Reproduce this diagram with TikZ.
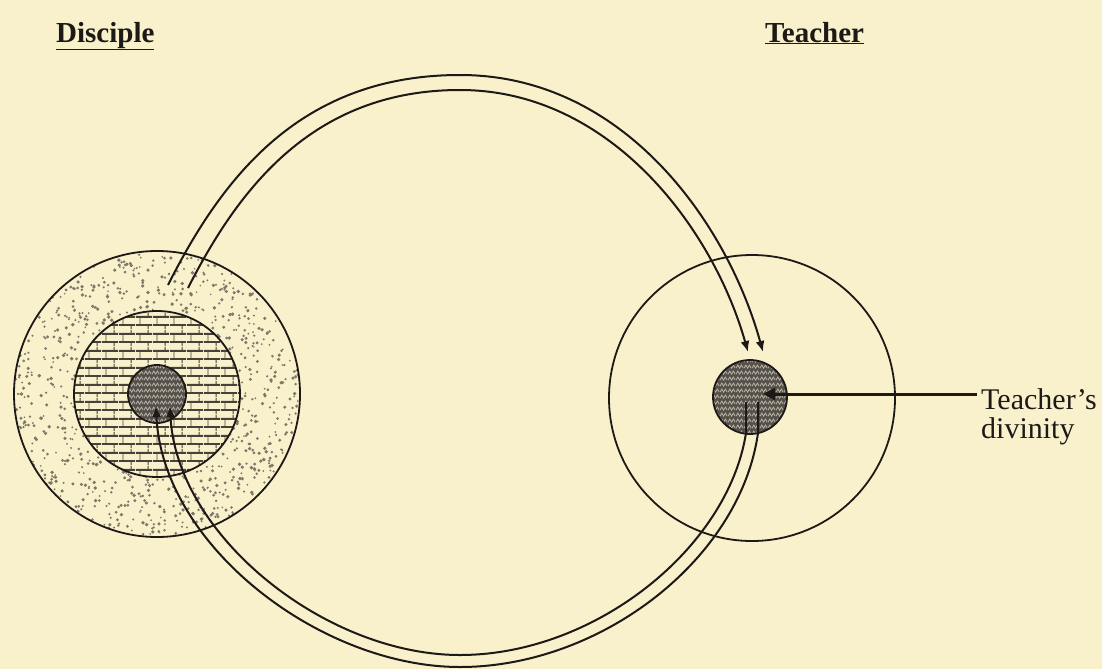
\documentclass[tikz,border=0pt]{standalone}
\usepackage{fontspec}
\setmainfont{Liberation Serif}
\usetikzlibrary{arrows.meta,patterns,patterns.meta}

\definecolor{paper}{RGB}{249,241,204}
\definecolor{ink}{RGB}{28,25,22}
\definecolor{dotgray}{RGB}{125,120,105}
\definecolor{brickline}{RGB}{70,66,58}
\definecolor{coregray}{RGB}{85,80,74}
\definecolor{corelight}{RGB}{185,180,165}

\tikzdeclarepattern{
  name=mybricks, type=uncolored,
  bottom left={(0pt,0pt)}, top right={(17pt,17pt)},
  tile size={(17pt,17pt)},
  code={
    \draw[line width=1.9pt] (0pt,4.25pt)--(17pt,4.25pt) (0pt,12.75pt)--(17pt,12.75pt);
    \draw[line width=0.9pt] (4.25pt,4.25pt)--(4.25pt,12.75pt)
       (12.75pt,12.75pt)--(12.75pt,17pt) (12.75pt,0pt)--(12.75pt,4.25pt);
  }}

\tikzdeclarepattern{
  name=myzig, type=uncolored,
  bottom left={(0pt,0pt)}, top right={(8pt,6pt)},
  tile size={(8pt,6pt)},
  code={
    \draw[line width=0.9pt] (0pt,1pt)--(2pt,4.5pt)--(4pt,1pt)--(6pt,4.5pt)--(8pt,1pt);
  }}

\tikzset{
  ring/.style={draw=ink, line width=1.8pt},
  flow/.style={draw=ink, line width=2pt},
  flowtip/.style={flow, -{Latex[length=11pt,width=9pt]}},
  headlabel/.style={font=\fontsize{29}{30}\selectfont\bfseries, anchor=base west, inner sep=0pt, text=ink},
  sidelabel/.style={font=\fontsize{30}{29}\selectfont, anchor=north west, inner sep=0pt, align=left, text=ink},
}

\begin{document}
\begin{tikzpicture}[x=1pt,y=-1pt]
\fill[paper] (0,0) rectangle (1102,669);
\useasboundingbox (0,0) rectangle (1102,669);

% ---- Disciple ----
\coordinate (dc) at (157,394);
\fill[paper] (dc) circle (143);
\begin{scope}
  \clip (dc) circle (143);
  \pgfmathsetseed{11}
  \foreach \i in {1,...,1500}{
    \pgfmathsetmacro{\rx}{157+145*rand}
    \pgfmathsetmacro{\ry}{394+145*rand}
    \pgfmathsetmacro{\rs}{0.9+1.0*rnd}
    \fill[dotgray] (\rx,\ry) circle (\rs);
  }
\end{scope}
\node[circle, ring, minimum size=286pt, inner sep=0pt] (dout) at (dc) {};
\fill[paper] (dc) circle (83);
\fill[pattern=mybricks, pattern color=brickline] (dc) circle (83);
\node[circle, ring, minimum size=166pt, inner sep=0pt] (dmid) at (dc) {};
\fill[coregray] (dc) circle (29);
\fill[pattern=myzig, pattern color=corelight] (dc) circle (29);
\node[circle, ring, minimum size=58pt, inner sep=0pt] (dcore) at (dc) {};

% ---- Teacher ----
\coordinate (tc) at (752,398);
\node[circle, ring, minimum size=286pt, inner sep=0pt] (tout) at (tc) {};
\coordinate (tcc) at (750,397);
\fill[coregray] (tcc) circle (37);
\fill[pattern=myzig, pattern color=corelight] (tcc) circle (37);
\node[circle, ring, minimum size=74pt, inner sep=0pt] (tcore) at (tcc) {};

% ---- headings ----
\node[headlabel] (hd) at (56,42) {\underline{Disciple}};
\node[headlabel] (ht) at (765,42) {\underline{Teacher}};

% ---- top flow: disciple -> teacher ----
\coordinate (a1s) at (168,285);
\coordinate (a1e) at (763,352);
\coordinate (a2s) at (188,288);
\coordinate (a2e) at (748,352);
\draw[flowtip] (a1s) .. controls (222,178) and (300,75) .. (460,75)
   .. controls (625,75) and (728,225) .. (a1e);
\draw[flowtip] (a2s) .. controls (238,190) and (312,90) .. (460,90)
   .. controls (610,90) and (713,228) .. (a2e);

% ---- bottom flow: teacher -> disciple ----
\coordinate (b1s) at (758,402);
\coordinate (b1e) at (156,406);
\coordinate (b2s) at (746,402);
\coordinate (b2e) at (170,406);
\draw[flowtip] (b1s) -- (758,433) .. controls (740,560) and (600,667) .. (460,667)
   .. controls (320,667) and (162,545) .. (b1e);
\draw[flowtip] (b2s) -- (746,433) .. controls (728,548) and (595,655) .. (460,655)
   .. controls (325,655) and (176,535) .. (b2e);

% ---- Teacher's divinity ----
\node[sidelabel] (lbl) at (981,388) {Teacher’s\\divinity};
\coordinate (lblpt) at (977,394);
\coordinate (tdiv) at (763,394);
\draw[ink, line width=3pt, -{Triangle[length=12pt,width=12pt]}] (lblpt) -- (tdiv);
\end{tikzpicture}
\end{document}
